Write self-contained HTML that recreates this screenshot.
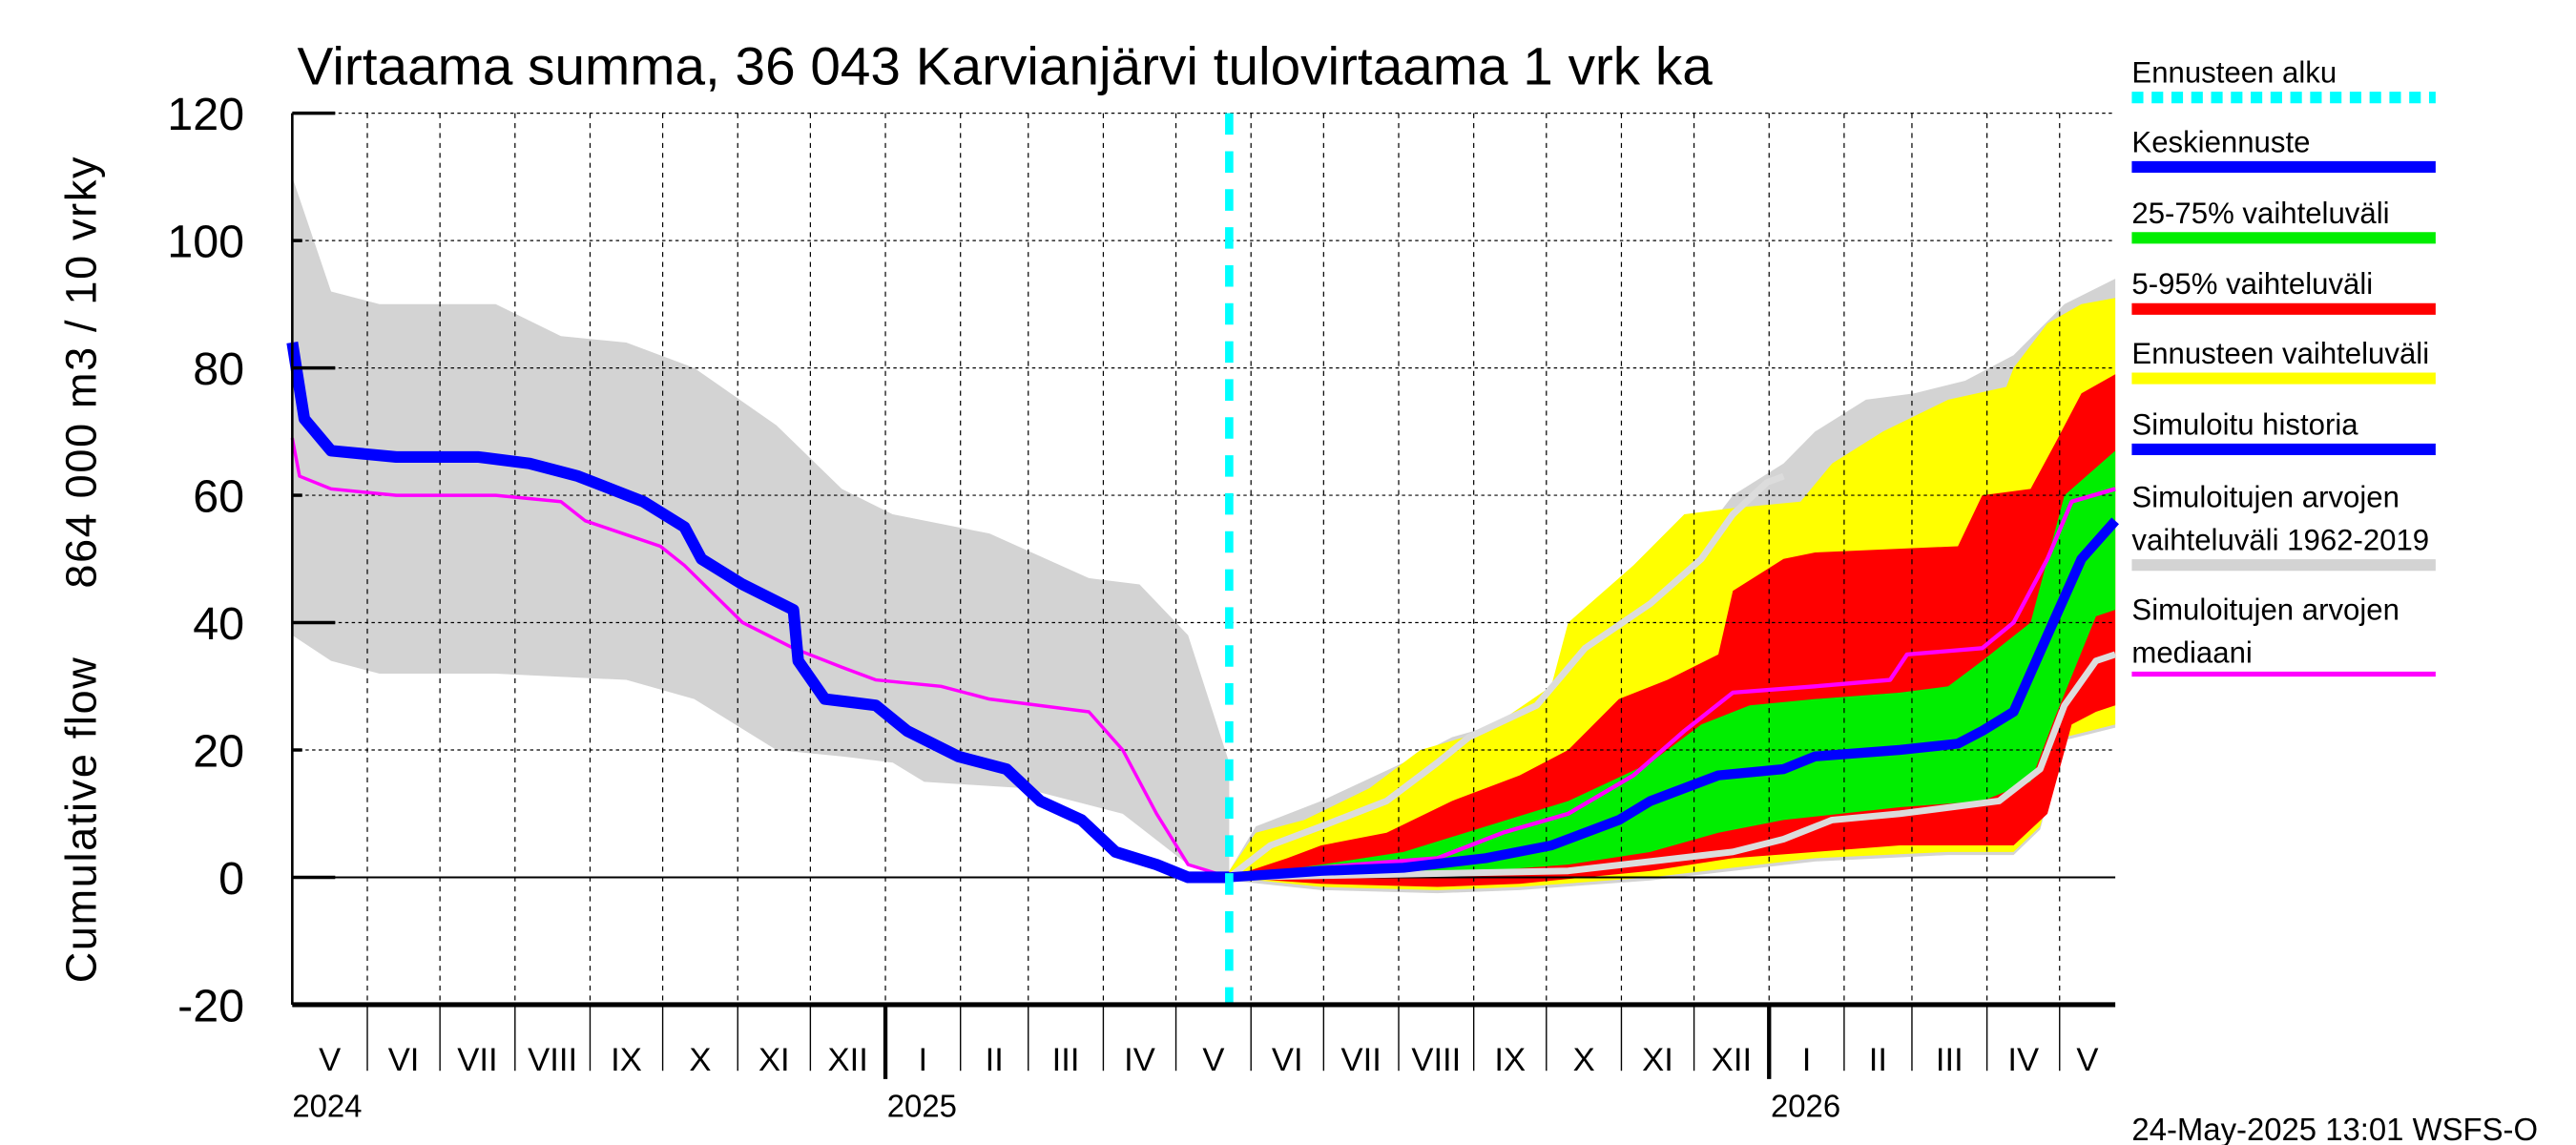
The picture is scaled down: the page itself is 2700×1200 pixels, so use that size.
<!DOCTYPE html>
<html><head><meta charset="utf-8"><style>
html,body{margin:0;padding:0;background:#fff;}
svg{display:block;font-family:"Liberation Sans",sans-serif;}
</style></head><body>
<svg id="chart" width="2700" height="1200" viewBox="0 0 1560 693" preserveAspectRatio="none" xmlns="http://www.w3.org/2000/svg">
<g id="bands"></g>
<g id="grid"></g>
<g id="lines"></g>
<g id="axes"></g>
<text x="180" y="51" font-size="32" textLength="857" lengthAdjust="spacingAndGlyphs">Virtaama summa, 36 043 Karvianjärvi tulovirtaama 1 vrk ka</text>
<text transform="translate(58,595) rotate(-90)" font-size="26" textLength="500" lengthAdjust="spacing" xml:space="preserve">Cumulative flow     864 000 m3 / 10 vrky</text>
<text x="1291" y="690" font-size="19">24-May-2025 13:01 WSFS-O</text>
<g id="legend"></g>
</svg>
<script>
// ---- data (days since 2024-05-01, values) ----
const histGreyDays=[0,16,36,84,111,138,166,200,227,248,288,329,350,370,387];
const histGreyUpper=[110,92,90,90,85,84,80,71,61,57,54,47,46,38,18];
const histGreyLowerDays=[0,16,36,84,138,166,200,227,248,261,302,343,370,387];
const histGreyLower=[38,34,32,32,31,28,20,19,18,15,14,10,2,0];
const blueHistDays=[0,5,16,43,77,98,118,145,162,169,186,207,209,220,241,254,275,295,309,326,340,357,370,387];
const blueHist=[84,72,67,66,66,65,63,59,55,50,46,42,34,28,27,23,19,17,12,9,4,2,0,0];
const magHistDays=[0,3,16,43,84,111,121,152,162,186,207,227,241,268,288,329,343,357,370,387];
const magHist=[69,63,61,60,60,59,56,52,49,40,36,33,31,30,28,26,20,10,2,0];

const fGreyUpDays=[387,398,425,459,479,507,527,554,575,595,616,629,650,670,691,711,732,753];
const fGreyUp=[1,8,12,18,22,25,32,43,50,60,65,70,75,76,78,82,90,94];
const fYelUpDays=[387,398,418,445,466,493,520,527,554,575,595,623,636,657,684,708,711,725,739,753];
const fYelUp=[1,7,9,14,20,23,30,40,49,57,58,59,65,70,75,77,80,87,90,91];
const fRedUpDays=[387,411,425,452,479,507,527,548,568,589,595,616,629,688,698,718,728,739,753];
const fRedUp=[0,3,5,7,12,16,20,28,31,35,45,50,51,52,60,61,68,76,79];
const fGreenUpDays=[387,425,459,493,527,561,582,602,629,664,684,698,718,732,753];
const fGreenUp=[0,2,4,8,12,18,24,27,28,29,30,34,40,60,67];
const fGreenLoDays=[387,425,493,527,561,589,616,664,698,718,728,745,753];
const fGreenLo=[0,0.2,1,2,4,7,9,11,12,15,25,41,42];
const fRedLoDays=[387,425,473,507,561,595,629,664,711,725,735,745,753];
const fRedLo=[0,-1,-1.5,-1,1,3,4,5,5,10,24,26,27];
const fYelLoDays=[387,425,473,507,561,595,629,684,711,722,732,753];
const fYelLo=[0,-1.5,-2,-1.5,0,1.5,3,4,4,8,22,24];
const fBlueDays=[387,425,459,493,520,548,561,589,616,629,664,688,698,711,725,739,753];
const fBlue=[0,1,1.5,3,5,9,12,16,17,19,20,21,23,26,38,50,56];
const fMagDays=[387,411,439,473,500,527,554,575,595,629,660,667,698,711,725,735,753];
const fMag=[0,1,2,3,7,10,16,23,29,30,31,35,36,40,50,59,61];
const fLightUpDays=[387,404,425,452,473,486,514,534,561,582,595,609,616];
const fLightUp=[0,5,8,12,18,22,27,36,43,50,57,62,63];
const fLightLoDays=[387,459,527,561,595,616,636,664,705,722,732,745,753];
const fLightLo=[0,0.5,1,2.5,4,6,9,10,12,17,27,34,35];

const monthStarts=[0,31,61,92,123,153,184,214,245,276,304,335,365,396,426,457,488,518,549,579,610,641,669,700,730];
const monthLabels=["V","VI","VII","VIII","IX","X","XI","XII","I","II","III","IV","V","VI","VII","VIII","IX","X","XI","XII","I","II","III","IV","V"];
const yearDays=[245,610];
const yearLabels=["2025","2026"];
const yTicks=[-20,0,20,40,60,80,100,120];
const forecastDay=387;
const endDay=753;

// ---- scales ----
const X0=177,X1=1281,Y0=531,PPU=3.854;
const xs=d=>X0+(d/endDay)*(X1-X0);
const ys=v=>Y0-v*PPU;
const NS="http://www.w3.org/2000/svg";
function mk(tag,parent,attrs){const e=document.createElementNS(NS,tag);for(const k in attrs)e.setAttribute(k,attrs[k]);parent.appendChild(e);return e;}
function pts(d,v){return d.map((x,i)=>xs(x).toFixed(1)+","+ys(v[i]).toFixed(1));}
const bands=document.getElementById('bands'),lines=document.getElementById('lines'),grid=document.getElementById('grid'),axes=document.getElementById('axes'),legend=document.getElementById('legend');
function band(name,dU,vU,dL,vL,color){
  const p=pts(dU,vU).concat(pts(dL,vL).reverse());
  const e=mk('polygon',bands,{points:p.join(' '),fill:color});
  
  
}
function line(name,d,v,color,w){
  const e=mk('polyline',lines,{points:pts(d,v).join(' '),fill:'none',stroke:color,'stroke-width':w,'stroke-linejoin':'round'});
  
  
}
band('history-range-band',histGreyDays,histGreyUpper,histGreyLowerDays,histGreyLower,'#d3d3d3');
band('forecast-sim-range-band',fGreyUpDays,fGreyUp,fYelLoDays,fYelLo.map(v=>v-0.5),'#d3d3d3');
band('forecast-range-band',fYelUpDays,fYelUp,fYelLoDays,fYelLo,'#ffff00');
band('band-5-95',fRedUpDays,fRedUp,fRedLoDays,fRedLo,'#ff0000');
band('band-25-75',fGreenUpDays,fGreenUp,fGreenLoDays,fGreenLo,'#00ee00');

// grid
yTicks.forEach(t=>{ if(t===-20)return;
  const e=mk('line',grid,{x1:X0,x2:X1,y1:ys(t),y2:ys(t),stroke:'#000','stroke-width':t===0?1.2:0.7,'stroke-dasharray':t===0?'none':'2,2'});
  
  
});
monthStarts.forEach(m=>{ if(m===0)return;
  const e=mk('line',grid,{x1:xs(m),x2:xs(m),y1:ys(120),y2:ys(-20),stroke:'#000','stroke-width':0.7,'stroke-dasharray':'3,3'});
  
  
});

line('simulated-lower-line',fLightLoDays,fLightLo,'#dcdcdc',4);
line('simulated-upper-line',fLightUpDays,fLightUp,'#dcdcdc',4);
line('median-history-line',magHistDays,magHist,'#ff00ff',2);
line('median-forecast-line',fMagDays,fMag,'#ff00ff',2.5);
line('simulated-history-line',blueHistDays,blueHist,'#0000ff',7);
line('mean-forecast-line',fBlueDays,fBlue,'#0000ff',6);
{const e=mk('line',lines,{x1:xs(forecastDay),x2:xs(forecastDay),y1:ys(120),y2:ys(-20),stroke:'#00ffff','stroke-width':5,'stroke-dasharray':'13,10'});

}

// axes
{const e=mk('line',axes,{x1:X0,x2:X0,y1:ys(120),y2:ys(-20),stroke:'#000','stroke-width':1.5});

}
{const e=mk('line',axes,{x1:X0,x2:X1,y1:ys(-20),y2:ys(-20),stroke:'#000','stroke-width':3});

}
yTicks.forEach(t=>{
  const tk=mk('line',axes,{x1:X0,x2:X0+(t%40===0?26:6),y1:ys(t),y2:ys(t),stroke:'#000','stroke-width':2});
  
  
  const e=mk('text',axes,{x:148,y:ys(t)+10,'text-anchor':'end','font-size':28});
  e.textContent=t;
  
  
});
monthStarts.forEach((m,i)=>{
  const isYear=yearDays.includes(m);
  if(m>0){const tk=mk('line',axes,{x1:xs(m),x2:xs(m),y1:ys(-20),y2:ys(-20)+(isYear?45:40),stroke:'#000','stroke-width':isYear?2.5:0.8});
  
  }
  const next=i+1<monthStarts.length?monthStarts[i+1]:Math.min(761,endDay+8);
  const e=mk('text',axes,{x:(xs(m)+xs(Math.min(next,endDay)))/2,y:648,'text-anchor':'middle','font-size':20});
  e.textContent=monthLabels[i];
  
  
});
{const e=mk('text',axes,{x:X0,y:676,'font-size':19});e.textContent='2024';

}
yearDays.forEach((d,i)=>{const e=mk('text',axes,{x:xs(d)+1,y:676,'font-size':19});e.textContent=yearLabels[i];

});

// legend
const legItems=[["Ennusteen alku",null,"#00ffff",true],["Keskiennuste",null,"#0000ff"],["25-75% vaihteluväli",null,"#00ee00"],["5-95% vaihteluväli",null,"#ff0000"],["Ennusteen vaihteluväli",null,"#ffff00"],["Simuloitu historia",null,"#0000ff"],["Simuloitujen arvojen","vaihteluväli 1962-2019","#d3d3d3"],["Simuloitujen arvojen","mediaani","#ff00ff"]];
const legY=[50,92,135,178,220,263,307,375];
const legLineY=[59,101,144,187,229,272,342,408];
legItems.forEach((it,i)=>{
  const t=mk('text',legend,{x:1291,y:legY[i],'font-size':18});t.textContent=it[0];
  
  
  if(it[1]){const t2=mk('text',legend,{x:1291,y:legY[i]+26,'font-size':18});t2.textContent=it[1];
  
  }
  const l=mk('line',legend,{x1:1291,x2:1475,y1:legLineY[i],y2:legLineY[i],stroke:it[2],'stroke-width':i===7?3:7,'stroke-dasharray':it[3]?'7,5':'none'});
  
  
});
</script>
</body></html>
